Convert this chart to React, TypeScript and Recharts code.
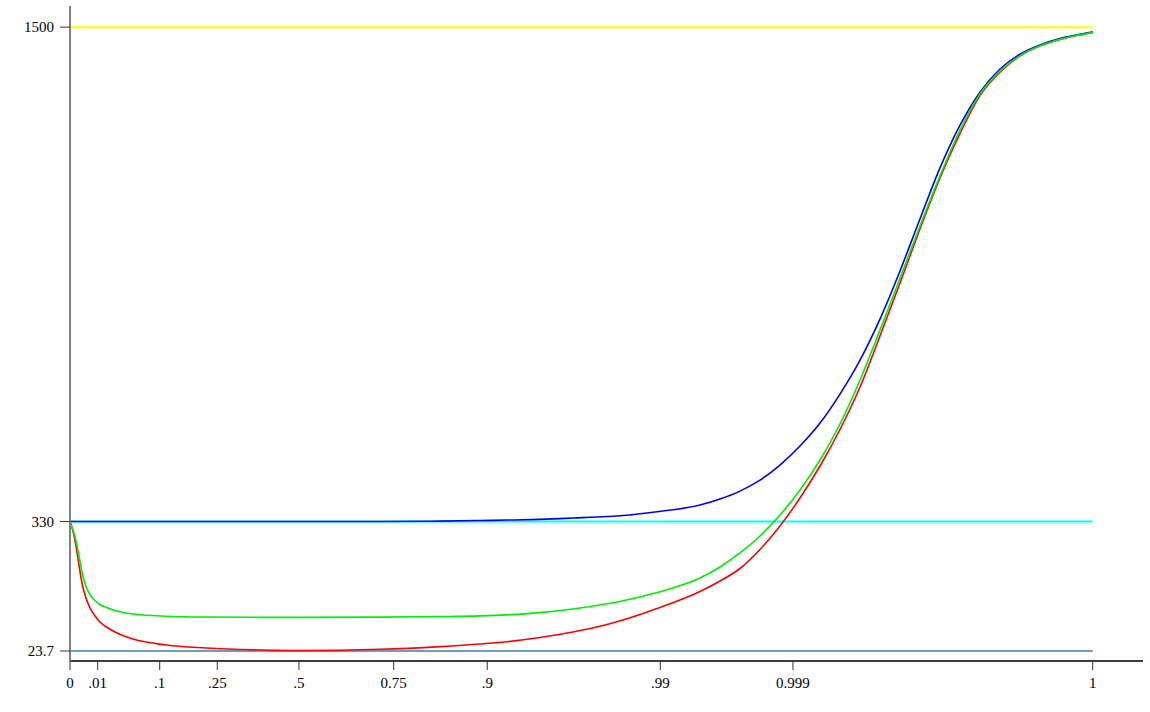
import { LineChart, Line, XAxis, YAxis, ReferenceLine } from 'recharts';

// x is the position along the quantile axis (0 = p 0, 1 = p 1)
const xPos = [
  0, 0.0029, 0.0059, 0.0088, 0.0117, 0.0156, 0.0196, 0.0245, 0.0293, 0.0372,
  0.045, 0.0616, 0.0939, 0.133, 0.1887, 0.2249, 0.3031, 0.3618, 0.4009, 0.4273,
  0.4596, 0.4918, 0.5251, 0.5407, 0.574, 0.616, 0.6356, 0.6551, 0.6747, 0.6942,
  0.7138, 0.7334, 0.7529, 0.7725, 0.792, 0.8116, 0.8311, 0.8507, 0.8703, 0.8898,
  0.9094, 0.9289, 0.9485, 0.968, 0.9837, 1,
];
const blue = [
  330, 330, 330, 330, 330, 330, 330, 330, 330, 330,
  330, 330, 330, 330, 330, 330, 330, 331, 332.4, 333.5,
  335.2, 338.3, 341.8, 344.2, 353.2, 369, 383.2, 402, 428, 463.7,
  508.7, 563, 631.7, 712, 809, 923, 1046, 1167, 1268, 1346,
  1401, 1436, 1458, 1473, 1481, 1489,
];
const green = [
  330, 310, 284, 248.5, 210.6, 176.3, 157.4, 143.2, 133.7, 125.4,
  118.8, 111.2, 106, 104, 103.3, 103.2, 103.8, 105.2, 106.9, 109.2,
  114.4, 123, 135.4, 142.5, 162, 196.4, 222.4, 255.6, 295.8, 345.5,
  404.7, 475.6, 560.8, 665, 783, 906, 1029, 1148, 1256.6, 1342,
  1396, 1432, 1455.7, 1471, 1480, 1487,
];
const red = [
  330, 307.5, 272, 227, 184.6, 149, 125.4, 106.5, 92.3, 78.1,
  67.4, 52, 37.9, 30.8, 26, 24.9, 27.7, 34.1, 40.2, 45.7,
  55.6, 68.6, 86.4, 97, 124.2, 164.5, 189.3, 218.9, 263.9, 319.5,
  385.7, 461.4, 547.8, 648.4, 769, 894.5, 1022.3, 1143, 1248.5, 1338,
  1393.5, 1432, 1455.7, 1471, 1480, 1487,
];

const tickPos = [0, 0.0271, 0.0877, 0.144, 0.2239, 0.3165, 0.408, 0.5772, 0.7069, 1];
const tickLabels = ['0', '.01', '.1', '.25', '.5', '0.75', '.9', '.99', '0.999', '1'];
const yTicks = [23.7, 330, 1500];

const levels = [1500, 330, 23.7];
const levelColors = ['#ffff00', '#00ffff', '#6b9dc8'];

const xMax = 1.0492;

const data = xPos.map((x, i) => ({ x, blue: blue[i], green: green[i], red: red[i] }));

const tickFont = { fill: '#000', fontSize: 15, fontFamily: '"Liberation Serif", "Times New Roman", serif' };

export default function App() {
  return (
    <div style={{ position: 'absolute', left: 0, top: 0, background: '#fff' }}>
      <LineChart width={1150} height={712} data={data} margin={{ top: 6, right: 7, left: 0, bottom: 0 }}>
        <XAxis
          dataKey="x"
          type="number"
          domain={[0, xMax]}
          ticks={tickPos}
          interval={0}
          tickFormatter={(v: number) => tickLabels[tickPos.indexOf(v)]}
          axisLine={{ stroke: '#4b3549', strokeWidth: 2 }}
          tickLine={{ stroke: '#333' }}
          tickSize={9}
          tickMargin={7}
          height={51}
          tick={tickFont}
        />
        <YAxis
          type="number"
          domain={[0, 1550]}
          ticks={yTicks}
          interval={0}
          axisLine={{ stroke: '#808080', strokeWidth: 2 }}
          tickLine={{ stroke: '#333' }}
          tickSize={10}
          tickMargin={6}
          width={70}
          tick={tickFont}
        />
        {levels.map((lv, i) => (
          <ReferenceLine
            key={lv}
            segment={[{ x: 0, y: lv }, { x: 1, y: lv }]}
            stroke={levelColors[i]}
            strokeWidth={2}
          />
        ))}
        <ReferenceLine segment={[{ x: 1, y: 0 }, { x: xMax, y: 0 }]} stroke="#808080" strokeWidth={2} ifOverflow="visible" />
        <Line type="monotone" dataKey="red" stroke="#ff0000" strokeWidth={1.6} dot={false} isAnimationActive={false} />
        <Line type="monotone" dataKey="blue" stroke="#0000ff" strokeWidth={1.6} dot={false} isAnimationActive={false} />
        <Line type="monotone" dataKey="green" stroke="#00ee00" strokeWidth={1.6} dot={false} isAnimationActive={false} />
      </LineChart>
    </div>
  );
}
